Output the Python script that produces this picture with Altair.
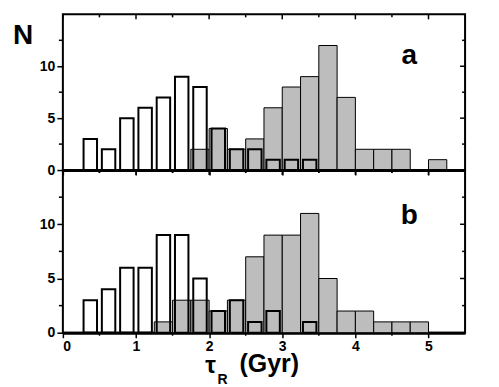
import altair as alt
import pandas as pd

# Bin centres (Gyr) and counts, bin width 0.25 Gyr
top_open_x = [0.375, 0.625, 0.875, 1.125, 1.375, 1.625, 1.875, 2.125, 2.375, 2.625, 2.875, 3.125, 3.375]
top_open_n = [3, 2, 5, 6, 7, 9, 8, 4, 2, 2, 1, 1, 1]
top_hatch_x = [1.875, 2.125, 2.375, 2.625, 2.875, 3.125, 3.375, 3.625, 3.875, 4.125, 4.375, 4.625, 5.125]
top_hatch_n = [2, 4, 2, 3, 6, 8, 9, 12, 7, 2, 2, 2, 1]

bot_open_x = [0.375, 0.625, 0.875, 1.125, 1.375, 1.625, 1.875, 2.125, 2.375, 2.625, 2.875, 3.375]
bot_open_n = [3, 4, 6, 6, 9, 9, 5, 2, 3, 1, 2, 1]
bot_hatch_x = [1.375, 1.625, 1.875, 2.125, 2.375, 2.625, 2.875, 3.125, 3.375, 3.625, 3.875, 4.125, 4.375, 4.625, 4.875]
bot_hatch_n = [1, 3, 3, 2, 3, 7, 9, 9, 11, 5, 2, 2, 1, 1, 1]

X_MAJOR = [0, 1, 2, 3, 4, 5]
X_MINOR = [0.5, 1.5, 2.5, 3.5, 4.5]
Y_MAJOR = [0, 5, 10]
Y_MINOR = [2.5, 7.5, 12.5]
Y_MIRROR = [5, 10]

W = 403
H_TOP = 156
H_BOT = 163
FONT = "Liberation Sans"
HATCH = "#bdbdbd"

xs = alt.Scale(domain=[0, 5.5], nice=False, zero=False)
ys = alt.Scale(domain=[0, 15], nice=False)


def axes(show_labels):
    xaxis = alt.Axis(values=X_MAJOR, labels=show_labels, tickSize=5, tickWidth=1.5, tickColor="black",
                     domain=True, domainWidth=3, domainColor="black", grid=False, title=None,
                     labelFont=FONT, labelFontSize=14, labelFontWeight="bold", labelColor="black",
                     labelPadding=2)
    yaxis = alt.Axis(values=Y_MAJOR, tickSize=6, tickWidth=1.5, tickColor="black", domain=False,
                     grid=False, title=None, labelFont=FONT, labelFontSize=14, labelFontWeight="bold",
                     labelColor="black", labelPadding=2)
    return xaxis, yaxis


def panel(open_x, open_n, hatch_x, hatch_n, height, letter, show_labels, extra):
    xaxis, yaxis = axes(show_labels)

    def x_rules(vals, y0, y1):
        return alt.Chart(pd.DataFrame({"v": vals})).mark_rule(color="black", strokeWidth=1.5).encode(
            x=alt.X("v:Q", scale=xs, axis=xaxis), y=alt.value(y0), y2=alt.value(y1))

    def y_rules(vals, x0, x1):
        return alt.Chart(pd.DataFrame({"v": vals})).mark_rule(color="black", strokeWidth=1.5).encode(
            y=alt.Y("v:Q", scale=ys, axis=yaxis), x=alt.value(x0), x2=alt.value(x1))

    hatched = alt.Chart(pd.DataFrame({"c": hatch_x, "n": hatch_n})).transform_calculate(
        lo="datum.c - 0.125", hi="datum.c + 0.125"
    ).mark_rect(fill=HATCH, stroke="black", strokeWidth=1).encode(
        x=alt.X("lo:Q", scale=xs, axis=xaxis), x2="hi:Q",
        y=alt.Y("n:Q", scale=ys, axis=yaxis), y2=alt.datum(0))
    opened = alt.Chart(pd.DataFrame({"c": open_x, "n": open_n})).transform_calculate(
        lo="datum.c - 0.092", hi="datum.c + 0.092"
    ).mark_rect(fill="white", fillOpacity=0, stroke="black", strokeWidth=2).encode(
        x=alt.X("lo:Q", scale=xs, axis=xaxis), x2="hi:Q",
        y=alt.Y("n:Q", scale=ys, axis=yaxis), y2=alt.datum(0))
    label = alt.Chart(pd.DataFrame({"t": [letter]})).mark_text(
        font=FONT, fontSize=28, fontWeight="bold", align="center", baseline="alphabetic", color="black"
    ).encode(text="t:N", x=alt.value(347), y=alt.value(50 if letter == "a" else 54))
    layers = [hatched, opened,
              x_rules(X_MINOR, height, height + 3),
              x_rules(X_MAJOR, 0, 5), x_rules(X_MINOR, 0, 3),
              y_rules(Y_MINOR, -4, 0),
              y_rules(Y_MIRROR, W, W - 5), y_rules(Y_MINOR, W, W - 3),
              label] + extra
    return alt.layer(*layers).properties(width=W, height=height)


n_title = alt.Chart(pd.DataFrame({"t": ["N"]})).mark_text(
    font=FONT, fontSize=28, fontWeight="bold", align="left", baseline="alphabetic", color="black"
).encode(text="t:N", x=alt.value(-50), y=alt.value(30))

x_title = [
    alt.Chart(pd.DataFrame({"t": ["τ"]})).mark_text(
        font=FONT, fontSize=24, fontWeight="bold", align="center", baseline="alphabetic", color="black"
    ).encode(text="t:N", x=alt.value(148), y=alt.value(203)),
    alt.Chart(pd.DataFrame({"t": ["R"]})).mark_text(
        font=FONT, fontSize=14, fontWeight="bold", align="left", baseline="alphabetic", color="black"
    ).encode(text="t:N", x=alt.value(155), y=alt.value(214)),
    alt.Chart(pd.DataFrame({"t": ["(Gyr)"]})).mark_text(
        font=FONT, fontSize=25, fontWeight="bold", align="left", baseline="alphabetic", color="black"
    ).encode(text="t:N", x=alt.value(177), y=alt.value(202)),
]

top = panel(top_open_x, top_open_n, top_hatch_x, top_hatch_n, H_TOP, "a", False, [n_title])
bottom = panel(bot_open_x, bot_open_n, bot_hatch_x, bot_hatch_n, H_BOT, "b", True, x_title)

chart = alt.vconcat(top, bottom, spacing=0, bounds="flush").properties(
    padding={"left": 12, "top": 12, "right": 32, "bottom": 4},
    background="white",
).configure_view(stroke="black", strokeWidth=2)

chart.save("out.html", embed_options={"renderer": "svg", "actions": False})
